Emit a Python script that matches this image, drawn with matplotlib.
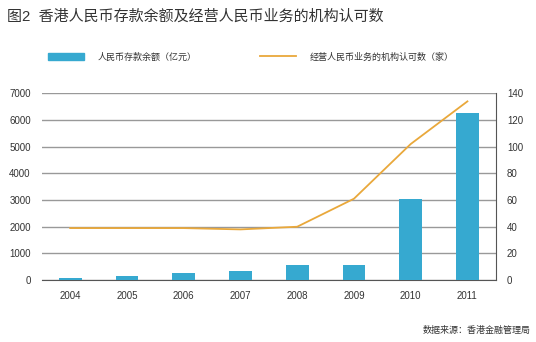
import numpy as np
import matplotlib.pyplot as plt
from matplotlib.patches import Patch
from matplotlib.lines import Line2D

plt.rcParams["font.family"] = ["Liberation Sans", "Noto Sans CJK SC"]

years = ["2004", "2005", "2006", "2007", "2008", "2009", "2010", "2011"]
deposits = [90, 160, 250, 330, 560, 560, 3030, 6270]
institutions = [39, 39, 39, 38, 40, 61, 102, 134]

bar_color = "#36A9D0"
line_color = "#E9A83B"
text_color = "#333333"

fig = plt.figure(figsize=(5.36, 3.42), dpi=100)
ax = fig.add_axes([0.078, 0.181, 0.847, 0.546])
x = np.arange(len(years))

ax.bar(x, deposits, width=0.4, color=bar_color, zorder=3)
ax.set_xlim(-0.5, len(years) - 0.5)
ax.set_ylim(0, 7000)
ax.set_yticks(np.arange(0, 7001, 1000))
ax.set_xticks(x, years)
ax.yaxis.grid(True, color="#999999", linewidth=1)
ax.set_axisbelow(True)
for side in ["left", "top", "right"]:
    ax.spines[side].set_visible(False)
ax.spines["bottom"].set_color("#555555")
ax.tick_params(axis="both", length=0, labelsize=7, colors=text_color)
ax.tick_params(axis="y", pad=8)
ax.tick_params(axis="x", pad=8)

ax2 = ax.twinx()
ax2.plot(x, institutions, color=line_color, linewidth=1.3, zorder=4)
ax2.set_ylim(0, 140)
ax2.set_yticks(np.arange(0, 141, 20))
for side in ["left", "top", "bottom"]:
    ax2.spines[side].set_visible(False)
ax2.spines["right"].set_color("#555555")
ax2.tick_params(axis="y", length=0, labelsize=7, colors=text_color, pad=8)

fig.text(0.013, 0.95, "图2  香港人民币存款余额及经营人民币业务的机构认可数",
         fontsize=10.8, color=text_color, va="center")

handles = [Patch(color=bar_color), Line2D([], [], color=line_color, linewidth=1.3)]
labels = ["人民币存款余额（亿元）", "经营人民币业务的机构认可数（家）"]
fig.legend(handles, labels, loc="center left", bbox_to_anchor=(0.089, 0.833),
           ncol=2, frameon=False, fontsize=6.5, handlelength=4.0, handleheight=0.8,
           handletextpad=1.5, columnspacing=7.0, labelcolor=text_color,
           borderpad=0, borderaxespad=0)

fig.text(0.99, 0.035, "数据来源：香港金融管理局", fontsize=6.5, color=text_color,
         ha="right", va="center")

fig.savefig("out.png", dpi=100)
